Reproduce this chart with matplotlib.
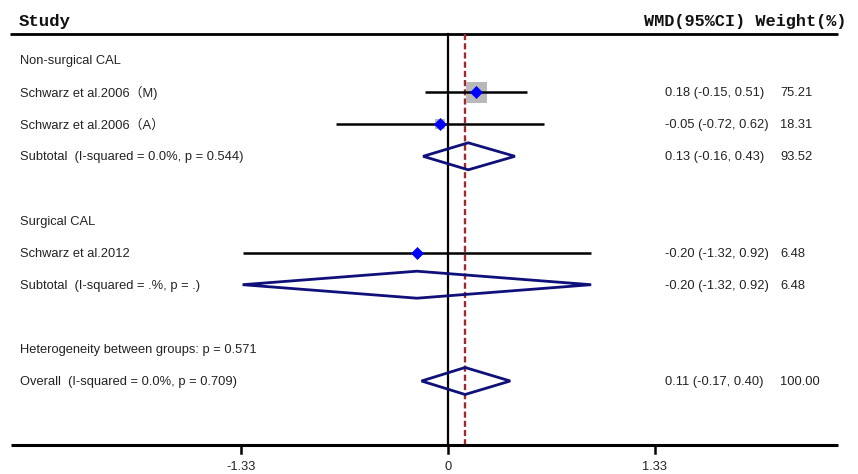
import numpy as np
import matplotlib
matplotlib.use("Agg")
import matplotlib.pyplot as plt
from matplotlib.patches import Polygon

# study level results
studies = ["Schwarz et al.2006\uff08M)", "Schwarz et al.2006\uff08A\uff09", "Schwarz et al.2012"]
study_est = [0.18, -0.05, -0.20]
study_lo = [-0.15, -0.72, -1.32]
study_hi = [0.51, 0.62, 0.92]
study_wt = [75.21, 18.31, 6.48]

# pooled results (two subgroups + overall)
pooled_labels = ["Subtotal  (I-squared = 0.0%, p = 0.544)",
                 "Subtotal  (I-squared = .%, p = .)",
                 "Overall  (I-squared = 0.0%, p = 0.709)"]
pooled_est = [0.13, -0.20, 0.11]
pooled_lo = [-0.16, -1.32, -0.17]
pooled_hi = [0.43, 0.92, 0.40]
pooled_wt = [93.52, 6.48, 100.00]

group_labels = ["Non-surgical CAL", "Surgical CAL"]
het_label = "Heterogeneity between groups: p = 0.571"
tick_vals = [-1.33, 0, 1.33]

# layout (pixel rows)
W, H = 858, 474
x0_px, px_per_unit = 448, 155.6
y0, dy = 60, 32.1
study_rows = [1, 2, 6]
pooled_rows = [3, 7, 10]
group_rows = [0, 5]
het_row = 9
header_y, axis_y = 34, 445

body_font = ["Liberation Sans", "Noto Sans CJK SC"]
fs = 9.3
txt_col = "#222222"
navy = "#10107a"

fig = plt.figure(figsize=(W / 100, H / 100), dpi=100)
ax = fig.add_axes([0, 0, 1, 1])
ax.set_xlim(-x0_px / px_per_unit, (W - x0_px) / px_per_unit)
ax.set_ylim(H, 0)
ax.axis("off")

def ry(r):
    return y0 + r * dy

def px2x(p):
    return (p - x0_px) / px_per_unit

tr = ax.get_yaxis_transform()  # x in axes fraction, y in data

def label(x_px, y, s, **kw):
    ax.text(x_px / W, y + 1, s, transform=tr, fontsize=fs, family=body_font, va="center", color=txt_col, **kw)

# header
ax.text(19 / W, 26, "Study", transform=tr, fontsize=12.5, fontweight="bold",
        family="Liberation Mono", va="baseline", ha="left", color="#111111")
ax.text(847 / W, 26, "WMD(95%CI) Weight(%)", transform=tr, fontsize=12.2, fontweight="bold",
        family="Liberation Mono", va="baseline", ha="right", color="#111111")
ax.plot([px2x(10), px2x(838)], [header_y, header_y], color="black", lw=2, solid_capstyle="butt")

# no-effect line and overall estimate line
ax.plot([0, 0], [header_y, axis_y], color="black", lw=1.6, zorder=2)
ax.plot([pooled_est[2], pooled_est[2]], [header_y, axis_y], color="#9e2a2e", lw=1.7,
        dashes=(2.6, 1.3), zorder=2)

# study CIs, weight squares and point estimates
for i in range(len(studies)):
    y = ry(study_rows[i])
    ax.plot([study_lo[i], study_hi[i]], [y, y], color="black", lw=1.8, zorder=3, solid_capstyle="butt")
    side_pt = 21 * np.sqrt(study_wt[i] / study_wt[0]) * 72 / 100
    ax.scatter([study_est[i]], [y], marker="s", s=side_pt ** 2, color="#b9b9b9", linewidths=0, zorder=2.5)
    ax.plot([study_est[i]], [y], marker="D", ms=6.4, color="#0000ff", mec="#0000ff", mew=0.5, zorder=4)
    label(20, y, studies[i])
    label(665, y, f"{study_est[i]:.2f} ({study_lo[i]:.2f}, {study_hi[i]:.2f})")
    label(780, y, f"{study_wt[i]:.2f}")

# pooled diamonds
hh = 13.5
for i in range(len(pooled_labels)):
    y = ry(pooled_rows[i])
    d = Polygon([[pooled_lo[i], y], [pooled_est[i], y - hh], [pooled_hi[i], y], [pooled_est[i], y + hh]],
                closed=True, facecolor="none", edgecolor=navy, lw=2, zorder=4)
    ax.add_patch(d)
    label(20, y, pooled_labels[i])
    label(665, y, f"{pooled_est[i]:.2f} ({pooled_lo[i]:.2f}, {pooled_hi[i]:.2f})")
    label(780, y, f"{pooled_wt[i]:.2f}")

for lab, r in zip(group_labels, group_rows):
    label(20, ry(r), lab)
label(20, ry(het_row), het_label)

# x axis
ax.plot([px2x(11), px2x(838)], [axis_y, axis_y], color="black", lw=2.2, solid_capstyle="butt")
for t in tick_vals:
    ax.plot([t, t], [axis_y, axis_y + 8], color="black", lw=1.8)
    ax.text(t, axis_y + 16, f"{t:g}", fontsize=fs, family=body_font, ha="center", va="top", color=txt_col)

fig.savefig("out.png", dpi=100)
